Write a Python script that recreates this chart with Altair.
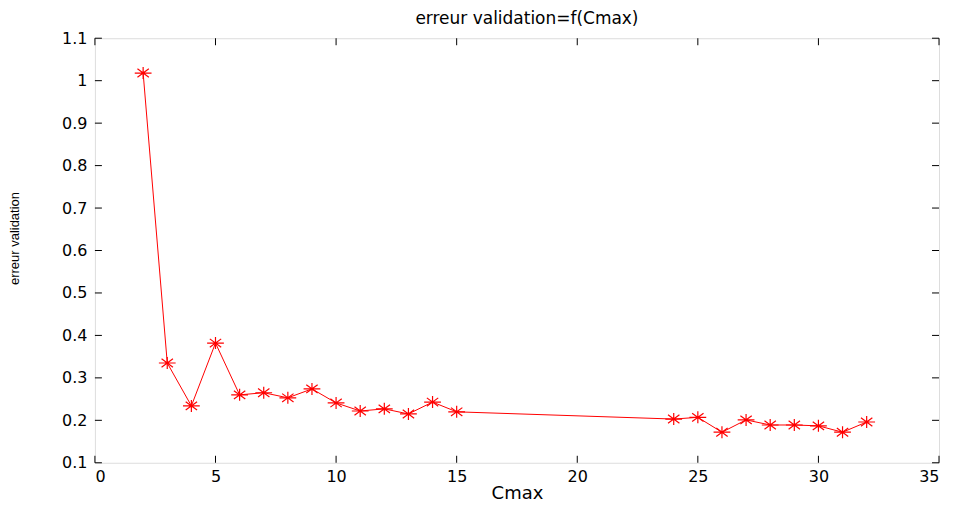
import altair as alt
import pandas as pd

cmax = [2, 3, 4, 5, 6, 7, 8, 9, 10, 11, 12, 13, 14, 15, 24, 25, 26, 27, 28, 29, 30, 31, 32]
erreur = [1.018, 0.335, 0.234, 0.382, 0.260, 0.265, 0.253, 0.274, 0.241, 0.222, 0.227,
          0.215, 0.243, 0.220, 0.203, 0.207, 0.172, 0.201, 0.189, 0.189, 0.187, 0.172, 0.196]
x_ticks = [0, 5, 10, 15, 20, 25, 30, 35]
y_ticks = [0.1, 0.2, 0.3, 0.4, 0.5, 0.6, 0.7, 0.8, 0.9, 1.0, 1.1]

W, H = 845, 425
TICK = 7
FONT = "DejaVu Sans"

df = pd.DataFrame({"Cmax": cmax, "err": erreur})
xt = pd.DataFrame({"t": x_ticks})
yt = pd.DataFrame({"t": y_ticks})

xscale = alt.Scale(domain=[0, 35], nice=False, zero=False)
yscale = alt.Scale(domain=[0.1, 1.1], nice=False, zero=False)

xaxis = alt.Axis(values=x_ticks, ticks=False, domain=False, grid=False,
                 labelFont=FONT, labelFontSize=16, labelColor="black", labelPadding=6,
                 title="Cmax", titleFont=FONT, titleFontSize=18, titleFontWeight="normal",
                 titleColor="black", titlePadding=0)
yaxis = alt.Axis(values=y_ticks, ticks=False, domain=False, grid=False, format="~g",
                 labelFont=FONT, labelFontSize=16, labelColor="black", labelPadding=8,
                 title="erreur validation", titleFont="Liberation Sans", titleFontSize=13,
                 titleFontWeight="normal", titleColor="black", titleAngle=270,
                 titleX=-80, titleY=200, titleAlign="center", titleBaseline="middle")

asterisk = "M-1.4,0L1.4,0M0,-1L0,1M-0.95,-0.7L0.95,0.7M-0.95,0.7L0.95,-0.7"

line = alt.Chart(df).mark_line(color="#ff0000", strokeWidth=1).encode(
    x=alt.X("Cmax:Q", scale=xscale, axis=xaxis),
    y=alt.Y("err:Q", scale=yscale, axis=yaxis),
)
pts = alt.Chart(df).mark_point(shape=asterisk, size=144, filled=False, color="#ff0000",
                               strokeWidth=1.2, opacity=1).encode(
    x=alt.X("Cmax:Q", scale=xscale),
    y=alt.Y("err:Q", scale=yscale),
)

tick_col = "black"
xb = alt.Chart(xt).mark_rule(color=tick_col).encode(
    x=alt.X("t:Q", scale=xscale), y=alt.value(H), y2=alt.value(H - TICK))
xtp = alt.Chart(xt).mark_rule(color=tick_col).encode(
    x=alt.X("t:Q", scale=xscale), y=alt.value(0), y2=alt.value(TICK))
yl = alt.Chart(yt).mark_rule(color=tick_col).encode(
    y=alt.Y("t:Q", scale=yscale), x=alt.value(0), x2=alt.value(TICK))
yr = alt.Chart(yt).mark_rule(color=tick_col).encode(
    y=alt.Y("t:Q", scale=yscale), x=alt.value(W), x2=alt.value(W - TICK))

chart = alt.layer(xb, xtp, yl, yr, line, pts).properties(
    width=W, height=H,
    title=alt.TitleParams("erreur validation=f(Cmax)", font=FONT, fontSize=17,
                          fontWeight="normal", color="black", offset=2, dx=10),
    autosize=alt.AutoSizeParams(type="none"),
    padding={"left": 87, "top": 30, "right": 10, "bottom": 40},
).configure_view(stroke="black", strokeWidth=1).configure(background="white")

chart.save("out.html", embed_options={"renderer": "svg", "actions": False})
